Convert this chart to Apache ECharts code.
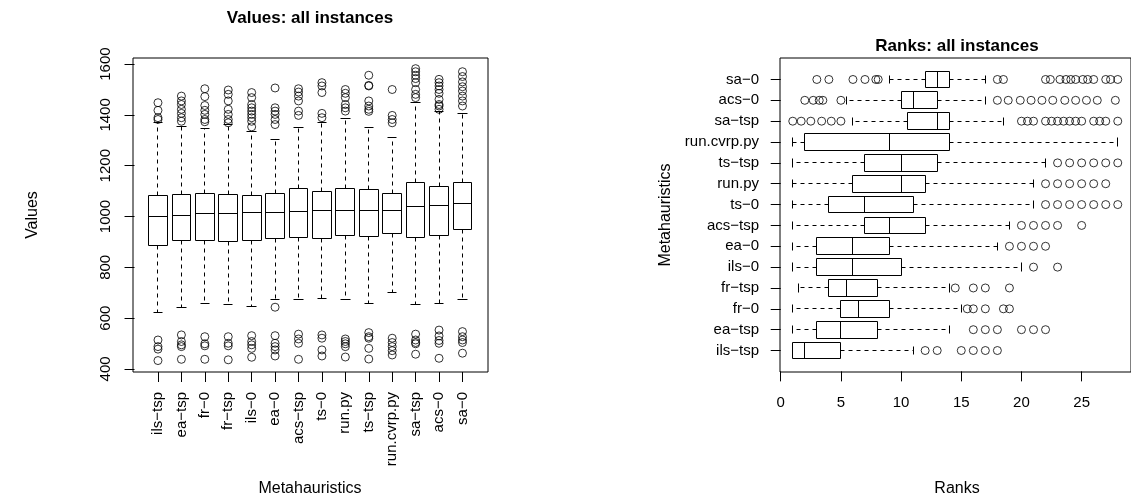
<!DOCTYPE html>
<html>
<head>
<meta charset="utf-8">
<script src="https://cdn.jsdelivr.net/npm/echarts@6/dist/echarts.min.js"></script>
<style>
  html, body { margin: 0; padding: 0; background: #fff; }
  #chart { width: 1131px; height: 501px; }
</style>
</head>
<body>
<div id="chart"></div>
<script>
// metaheuristic names, position 1 .. 14 (left to right, bottom to top)
var names = ['ils\u2212tsp', 'ea\u2212tsp', 'fr\u22120', 'fr\u2212tsp', 'ils\u22120', 'ea\u22120', 'acs\u2212tsp',
             'ts\u22120', 'run.py', 'ts\u2212tsp', 'run.cvrp.py', 'sa\u2212tsp', 'acs\u22120', 'sa\u22120'];

// Values: all instances
var valueLow  = [624, 642, 656, 655, 646, 672, 672, 679, 675, 656, 699, 655, 659, 675];
var valueQ1   = [885, 905, 905, 902, 905, 912, 916, 914, 925, 922, 935, 918, 925, 948];
var valueMed  = [1001, 1004, 1010, 1010, 1014, 1014, 1018, 1023, 1023, 1023, 1023, 1040, 1044, 1051];
var valueQ3   = [1082, 1086, 1090, 1088, 1084, 1089, 1112, 1098, 1110, 1106, 1089, 1133, 1119, 1133];
var valueHigh = [1369, 1353, 1345, 1362, 1333, 1303, 1349, 1372, 1386, 1349, 1312, 1450, 1415, 1406];
var valueOutliers = [
  [1448, 1418, 1389, 1382, 514, 488, 478, 433],
  [1474, 1455, 1441, 1422, 1406, 1389, 1375, 534, 508, 495, 488, 438],
  [1503, 1472, 1437, 1418, 1402, 1382, 1373, 527, 499, 491, 438],
  [1498, 1481, 1455, 1422, 1402, 1382, 1369, 527, 501, 491, 436],
  [1488, 1468, 1441, 1428, 1415, 1402, 1389, 1375, 1353, 531, 508, 495, 481, 446],
  [1506, 1428, 1415, 1402, 1382, 1362, 643, 531, 501, 488, 475, 451],
  [1503, 1490, 1474, 1455, 1415, 1398, 537, 518, 501, 438],
  [1527, 1514, 1488, 1406, 1389, 534, 521, 475, 451],
  [1500, 1485, 1468, 1441, 1428, 1415, 518, 508, 499, 488, 447],
  [1556, 1516, 1514, 1455, 1435, 1422, 1414, 543, 527, 521, 481, 439],
  [1500, 1398, 1382, 1369, 521, 504, 488, 472, 455],
  [1582, 1570, 1556, 1543, 1527, 1500, 1481, 1468, 537, 514, 504, 499, 458],
  [1540, 1527, 1514, 1500, 1485, 1461, 1441, 1435, 1422, 553, 530, 512, 501, 442],
  [1570, 1551, 1530, 1511, 1494, 1474, 1455, 1435, 547, 527, 514, 504, 462]
];
var valueTicks = [400, 600, 800, 1000, 1200, 1400, 1600];

// Ranks: all instances
var rankLow  = [1, 1, 1, 1.5, 1, 1, 1, 1, 1, 1, 1, 6, 5.5, 9];
var rankQ1   = [1, 3, 5, 4, 3, 3, 7, 4, 6, 7, 2, 10.5, 10, 12];
var rankMed  = [2, 5, 6.5, 5.5, 6, 6, 9, 7, 10, 10, 9, 13, 11, 13];
var rankQ3   = [5, 8, 9, 8, 10, 9, 12, 11, 12, 13, 14, 14, 13, 14];
var rankHigh = [11, 14, 15, 14, 20, 18, 19, 21, 21, 22, 28, 18.5, 17, 17];
var rankOutliers = [
  [12, 13, 15, 16, 17, 18],
  [16, 17, 18, 20, 21, 22],
  [15.5, 16, 17, 18.5, 19],
  [14.5, 16, 17, 19],
  [21, 23],
  [19, 20, 21, 22],
  [20, 21, 22, 23, 25],
  [22, 23, 24, 25, 26, 27, 28],
  [22, 23, 24, 25, 26, 27],
  [23, 24, 25, 26, 27, 28],
  [],
  [1, 1.7, 2.5, 3.4, 4.2, 5, 20, 20.5, 21, 22, 22.5, 23, 23.5, 24, 24.5, 25, 26, 26.5, 27, 28],
  [2, 2.7, 3.2, 3.5, 5, 18, 18.9, 19.9, 20.8, 21.7, 22.6, 23.6, 24.5, 25.4, 26.3, 27.8],
  [3, 4, 6, 7, 7.9, 8.1, 18, 18.5, 22, 22.4, 23.2, 23.7, 24.1, 24.5, 25.1, 25.5, 26, 27, 27.4, 28]
];
var rankTicks = [0, 5, 10, 15, 20, 25];

var positions = names.map(function (n, i) { return i + 1; });
var FONT = '"Liberation Sans", Arial, Helvetica, sans-serif';

function crisp(v) { return Math.round(v - 0.5) + 0.5; }

// R-style box: dashed whiskers, short staples, median line
function boxRenderer(horizontal) {
  return function (params, api) {
    var p = api.value(0);
    var lo = api.value(1), q1 = api.value(2), md = api.value(3), q3 = api.value(4), hi = api.value(5);
    function pt(a, v) { return horizontal ? api.coord([v, a]) : api.coord([a, v]); }
    function seg(a1, v1, a2, v2, dash) {
      var s = pt(a1, v1), e = pt(a2, v2);
      return {
        type: 'line',
        shape: { x1: crisp(s[0]), y1: crisp(s[1]), x2: crisp(e[0]), y2: crisp(e[1]) },
        style: { stroke: '#000', lineWidth: 1, lineDash: dash || null }
      };
    }
    var c1 = pt(p - 0.4, q1), c2 = pt(p + 0.4, q3);
    var x0 = crisp(Math.min(c1[0], c2[0])), y0 = crisp(Math.min(c1[1], c2[1]));
    var x1 = crisp(Math.max(c1[0], c2[0])), y1 = crisp(Math.max(c1[1], c2[1]));
    return {
      type: 'group',
      children: [
        seg(p, q3, p, hi, [4, 4]),
        seg(p, q1, p, lo, [4, 4]),
        seg(p - 0.2, hi, p + 0.2, hi),
        seg(p - 0.2, lo, p + 0.2, lo),
        { type: 'rect', shape: { x: x0, y: y0, width: x1 - x0, height: y1 - y0 },
          style: { fill: '#fff', stroke: '#000', lineWidth: 1 } },
        seg(p - 0.4, md, p + 0.4, md)
      ]
    };
  };
}

function boxData(lo, q1, md, q3, hi) {
  return positions.map(function (p, i) { return [p, lo[i], q1[i], md[i], q3[i], hi[i]]; });
}
function outlierData(list, horizontal) {
  var out = [];
  list.forEach(function (vals, i) {
    vals.forEach(function (v) { out.push(horizontal ? [v, i + 1] : [i + 1, v]); });
  });
  return out;
}
function nameOf(v) { return names[Math.round(v) - 1] || ''; }
function plain(v) { return String(v); }

var labelStyle = { color: '#000', fontFamily: FONT, fontSize: 15 };
var tickStyle = { show: true, length: 10, lineStyle: { color: '#000', width: 1 } };

var chart = echarts.init(document.getElementById('chart'), null, { renderer: 'canvas' });

var option = {
  animation: false,
  backgroundColor: '#fff',
  textStyle: { fontFamily: FONT },
  grid: [
    { left: 133, top: 58, width: 355, height: 314, show: true, borderColor: '#000', borderWidth: 1, backgroundColor: 'transparent' },
    { left: 780, top: 58, width: 356, height: 314, show: true, borderColor: '#000', borderWidth: 1, backgroundColor: 'transparent' }
  ],
  xAxis: [
    {
      gridIndex: 0, type: 'value', min: -0.066, max: 15.09,
      splitLine: { show: false }, axisLine: { show: false },
      axisTick: Object.assign({ customValues: positions }, tickStyle),
      axisLabel: Object.assign({ customValues: positions, rotate: 90, margin: 20, formatter: nameOf }, labelStyle)
    },
    {
      gridIndex: 1, type: 'value', min: -0.06, max: 29.1,
      splitLine: { show: false }, axisLine: { show: false },
      axisTick: Object.assign({ customValues: rankTicks }, tickStyle),
      axisLabel: Object.assign({ customValues: rankTicks, margin: 23, formatter: plain }, labelStyle)
    }
  ],
  yAxis: [
    {
      gridIndex: 0, type: 'value', min: 388, max: 1624,
      splitLine: { show: false }, axisLine: { show: false },
      axisTick: Object.assign({ customValues: valueTicks }, tickStyle),
      axisLabel: Object.assign({ customValues: valueTicks, rotate: 90, margin: 20, formatter: plain }, labelStyle)
    },
    {
      gridIndex: 1, type: 'value', min: -0.03, max: 15.03,
      splitLine: { show: false }, axisLine: { show: false },
      axisTick: Object.assign({ customValues: positions }, tickStyle),
      axisLabel: Object.assign({ customValues: positions, margin: 21, formatter: nameOf }, labelStyle)
    }
  ],
  series: [
    {
      type: 'custom', xAxisIndex: 0, yAxisIndex: 0,
      renderItem: boxRenderer(false),
      encode: { x: 0, y: [1, 2, 3, 4, 5] },
      data: boxData(valueLow, valueQ1, valueMed, valueQ3, valueHigh)
    },
    {
      type: 'scatter', xAxisIndex: 0, yAxisIndex: 0,
      symbol: 'circle', symbolSize: 8,
      itemStyle: { color: 'transparent', borderColor: '#000', borderWidth: 1 },
      data: outlierData(valueOutliers, false)
    },
    {
      type: 'custom', xAxisIndex: 1, yAxisIndex: 1,
      renderItem: boxRenderer(true),
      encode: { x: [1, 2, 3, 4, 5], y: 0 },
      data: boxData(rankLow, rankQ1, rankMed, rankQ3, rankHigh)
    },
    {
      type: 'scatter', xAxisIndex: 1, yAxisIndex: 1,
      symbol: 'circle', symbolSize: 8,
      itemStyle: { color: 'transparent', borderColor: '#000', borderWidth: 1 },
      data: outlierData(rankOutliers, true)
    }
  ],
  graphic: [
    { type: 'text', x: 310, y: 18, style: { text: 'Values: all instances', font: 'bold 17px ' + FONT, fill: '#000', align: 'center', verticalAlign: 'middle' } },
    { type: 'text', x: 957, y: 46, style: { text: 'Ranks: all instances', font: 'bold 17px ' + FONT, fill: '#000', align: 'center', verticalAlign: 'middle' } },
    { type: 'text', x: 310, y: 489, style: { text: 'Metahauristics', font: '16px ' + FONT, fill: '#000', align: 'center', verticalAlign: 'middle' } },
    { type: 'text', x: 957, y: 489, style: { text: 'Ranks', font: '16px ' + FONT, fill: '#000', align: 'center', verticalAlign: 'middle' } },
    { type: 'text', x: 33, y: 215, rotation: Math.PI / 2, style: { text: 'Values', font: '16px ' + FONT, fill: '#000', align: 'center', verticalAlign: 'middle' } },
    { type: 'text', x: 666, y: 215, rotation: Math.PI / 2, style: { text: 'Metahauristics', font: '16px ' + FONT, fill: '#000', align: 'center', verticalAlign: 'middle' } }
  ]
};

chart.setOption(option);
</script>
</body>
</html>
